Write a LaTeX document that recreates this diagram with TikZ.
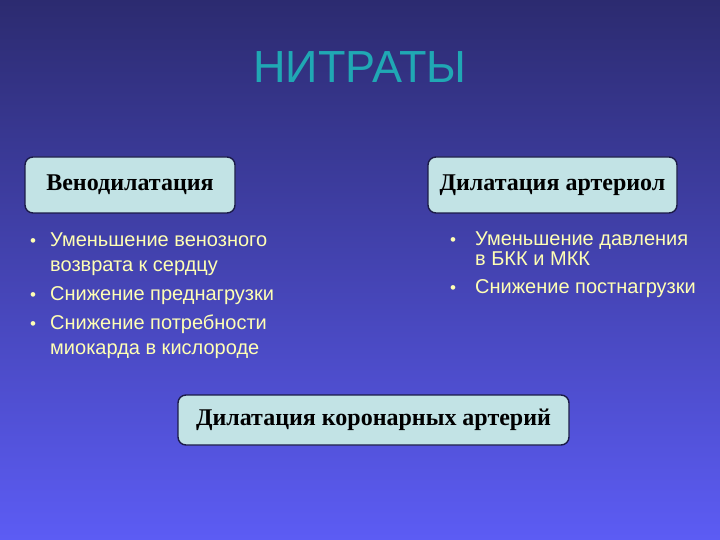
\documentclass[tikz,border=0pt]{standalone}
\usepackage{fontspec}
\setmainfont{Liberation Serif}
\newfontfamily\arialfont{Liberation Sans}
\usetikzlibrary{positioning}

\definecolor{bgtop}{HTML}{2C2B70}
\definecolor{bgbot}{HTML}{5C5CF4}
\definecolor{titlecol}{HTML}{20A8B4}
\definecolor{boxfill}{HTML}{C2E3E5}
\definecolor{boxline}{HTML}{1C1C48}
\definecolor{itemcol}{HTML}{FFFFB4}

\tikzset{
  effect/.style={draw=boxline,line width=1.4pt,fill=boxfill,rounded corners=8pt,
    font=\bfseries\fontsize{24}{28}\selectfont,text=black,inner sep=0pt},
  itemtext/.style={anchor=base west,align=left,text=itemcol,inner sep=0pt,
    font=\arialfont\fontsize{20}{25}\selectfont},
  bullet/.style={anchor=base,text=itemcol,inner sep=0pt,font=\arialfont\fontsize{17}{20}\selectfont}
}

\begin{document}
\begin{tikzpicture}[x=1pt,y=-1pt]
\shade[top color=bgtop,bottom color=bgbot] (0,0) rectangle (720,540);
\useasboundingbox (0,0) rectangle (720,540);

\node[anchor=base,text=titlecol,font=\arialfont\fontsize{45}{50}\selectfont](title) at (360,83){НИТРАТЫ};

\node[effect,minimum width=210pt,minimum height=56pt](veno) at (130,185){Венодилатация};
\node[effect,minimum width=249pt,minimum height=56pt](arter) at (552.5,185){Дилатация артериол};
\node[effect,minimum width=391pt,minimum height=50pt](coron) at (373.5,420){Дилатация коронарных артерий};

% left column (multi-line nodes sit on their last baseline)
\node[bullet](b1) at (33,246){•};
\node[itemtext](v1) at (50,271){Уменьшение венозного\\возврата к сердцу};
\node[bullet](b2) at (33,300){•};
\node[itemtext](v2) at (50,300){Снижение преднагрузки};
\node[bullet](b3) at (33,329){•};
\node[itemtext](v3) at (50,354){Снижение потребности\\миокарда в кислороде};

% right column
\node[bullet](b4) at (453,245){•};
\node[itemtext,font=\arialfont\fontsize{20}{20}\selectfont](a1) at (475,265){Уменьшение давления\\в БКК и МКК};
\node[bullet](b5) at (453,293){•};
\node[itemtext](a2) at (475,293){Снижение постнагрузки};
\end{tikzpicture}
\end{document}
